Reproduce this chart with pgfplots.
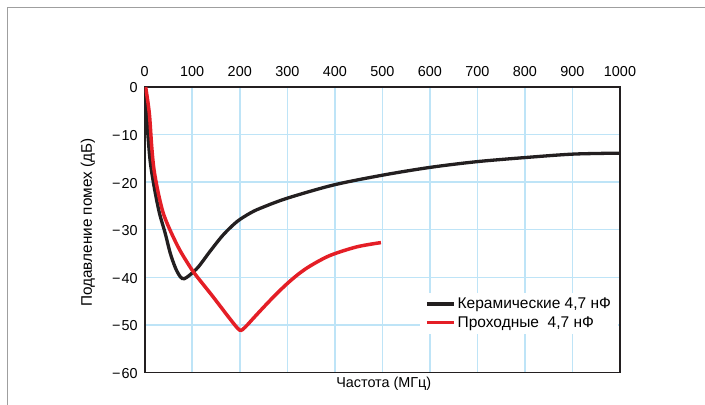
\documentclass[border=0pt]{standalone}
\usepackage{pgfplots}
\pgfplotsset{compat=1.18}
\usepackage{fontspec}
\setmainfont{Liberation Sans}
\definecolor{gridblue}{RGB}{190,228,247}
\definecolor{cblack}{RGB}{35,31,32}
\definecolor{cred}{RGB}{228,30,38}
\newcommand{\chfont}{\fontsize{14.4bp}{17bp}\selectfont}
\newcommand{\lgfont}{\fontsize{15.5bp}{18bp}\selectfont}
\newcommand{\mn}{−\kern1.2bp}
\begin{document}
\begin{tikzpicture}
\path[use as bounding box] (-144.7bp,-32.5bp) rectangle (560.3bp,372.5bp);
\begin{axis}[
  at={(0,0)}, anchor=south west,
  scale only axis, width=475.3bp, height=285.5bp,
  xmin=0, xmax=1000, ymin=-60, ymax=0,
  xtick={0,100,...,1000},
  ytick={-60,-50,-40,-30,-20,-10,0},
  yticklabels={\mn60,\mn50,\mn40,\mn30,\mn20,\mn10,0},
  xticklabel pos=upper,
  major tick length=0pt,
  grid=major,
  major grid style={color=gridblue, line width=1.5bp},
  axis line style={color=cblack, line width=1.8bp},
  tick label style={font=\chfont},
  /pgf/number format/assume math mode=true,
  /pgf/number format/1000 sep={},
  xticklabel style={yshift=7bp},
  yticklabel style={xshift=-3.5bp, yshift=-1bp},
  xlabel={Частота (МГц)},
  ylabel={Подавление помех (дБ)},
  xlabel style={font=\chfont, at={(axis description cs:0.503,0)}, anchor=north, yshift=-1bp},
  ylabel style={font=\fontsize{15.3bp}{18bp}\selectfont, at={(axis description cs:-0.1193,0.525)}, anchor=center},
  legend style={font=\lgfont, draw=none, fill=white, inner xsep=5bp, inner ysep=3bp,
    at={(rel axis cs:0.996,0.135)}, anchor=south east, row sep=2.5bp},
  legend cell align=left,
  legend image code/.code={\draw[#1, line width=3.5bp] (0bp,0bp) -- (27bp,0bp);},
]
\addplot[cblack, line width=3.3bp, smooth, tension=0.5] coordinates {
(0,0) (4,-5.5) (7,-10.4) (12,-16) (21,-21.6) (31,-26.5) (43,-30.7) (54,-35)
(65,-38.1) (75,-39.9) (83,-40.3) (95,-39.5) (113,-37.8) (137,-34.6) (165,-31.1)
(194,-28.3) (222,-26.5) (243,-25.5) (299,-23.4) (397,-20.6) (502,-18.5)
(600,-16.9) (698,-15.7) (804,-14.8) (902,-14.1) (1000,-13.9)};
\addlegendentry{Керамические 4,7 нФ}
\addplot[cred, line width=3.5bp, smooth, tension=0.5] coordinates {
(2,0) (9.7,-5.5) (14.7,-12.5) (19.6,-17.4) (28.6,-22.3) (39,-26.5) (53,-30)
(74,-34.3) (100,-38.5) (120,-41.1) (140,-43.6) (160,-46.2) (180,-48.8) (200,-51.1)
(212,-50.4) (225,-49.0) (250,-46.3) (275,-43.7) (300,-41.3) (325,-39.2)
(350,-37.5) (390,-35.4) (446,-33.6) (497,-32.7)};
\addlegendentry{Проходные\ \ 4,7 нФ}
\end{axis}
\draw[gray!75, line width=1bp] (-136.7bp,-40bp) -- (-136.7bp,365.2bp) -- (580bp,365.2bp);
\end{tikzpicture}
\end{document}
